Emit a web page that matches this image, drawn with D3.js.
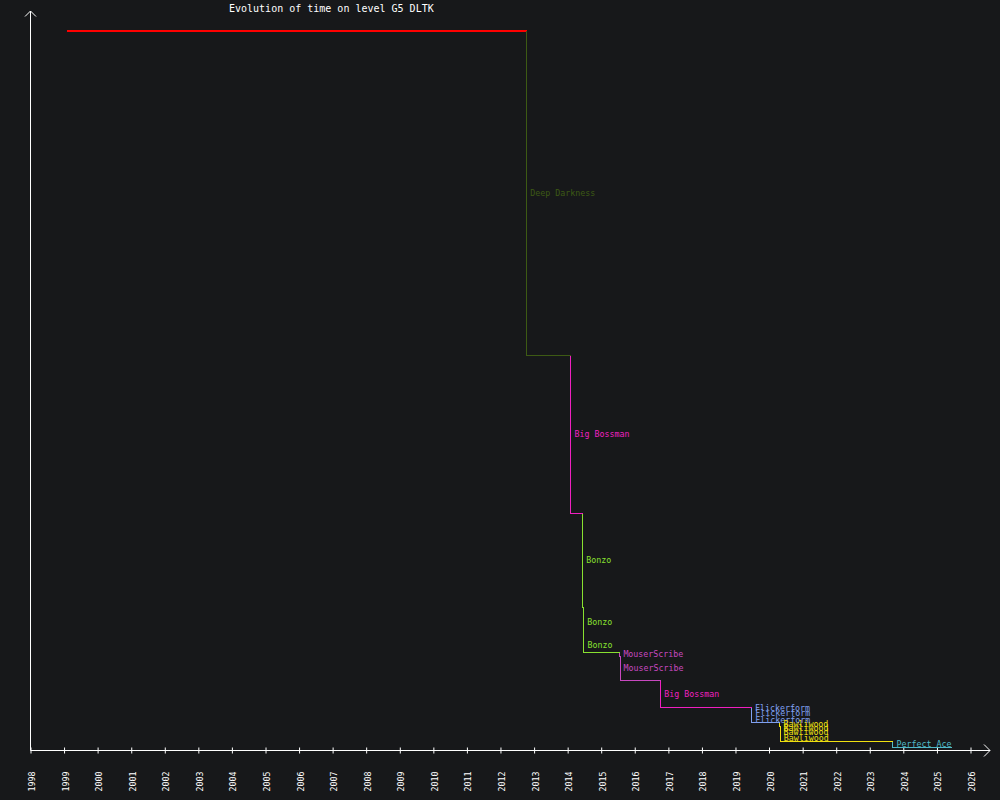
<!DOCTYPE html>
<html>
<head>
<meta charset="utf-8">
<script src="https://cdn.jsdelivr.net/npm/d3@7"></script>
<style>
  html, body { margin: 0; padding: 0; background: #17181a; }
  svg { display: block; }
  text { font-family: "DejaVu Sans Mono", monospace; }
</style>
</head>
<body>
<svg id="chart" width="1000" height="800"></svg>
<script>
// record history of level G5 DLTK (time, arbitrary units)
const recordDates = [
  '1999-01-24', '2012-10-07', '2014-02-01', '2014-06-10', '2014-06-21',
  '2014-06-22', '2015-07-18', '2015-07-20', '2016-10-04', '2019-06-20',
  '2019-06-21', '2019-06-22', '2020-04-23', '2020-04-24', '2020-04-25',
  '2020-04-26', '2023-09-05'
];
const recordTimes = [
  720, 395, 237, 143.3, 112.7,
  97.7, 94.3, 69.7, 43, 41.3,
  32.7, 27.7, 24.3, 19.7, 16.3,
  8.7, 3.3
];
const recordHolders = [
  '', 'Deep Darkness', 'Big Bossman', 'Bonzo', 'Bonzo',
  'Bonzo', 'MouserScribe', 'MouserScribe', 'Big Bossman', 'Flickerform',
  'Flickerform', 'Flickerform', 'Bawliwood', 'Bawliwood', 'Bawliwood',
  'Bawliwood', 'Perfect Ace'
];
const holderNames = ['', 'Deep Darkness', 'Big Bossman', 'Bonzo', 'MouserScribe', 'Flickerform', 'Bawliwood', 'Perfect Ace'];
const holderColors = ['#ff0000', '#3d5a14', '#f020c0', '#88e030', '#c848c0', '#80a0f0', '#f0e010', '#50b8c8'];
const startYear = '1998-01-01';
const endYear = '2026-01-01';
const today = '2025-06-06';
const title = 'Evolution of time on level G5 DLTK';

function drawChart() {
  const svg = d3.select('#chart');
  const parse = d3.timeParse('%Y-%m-%d');

  const x = d3.scaleTime()
    .domain([parse(startYear), parse(endYear)])
    .range([30.5, 970.5]);
  const y = d3.scaleLinear()
    .domain([0, 720])
    .range([750, 30]);
  const color = d3.scaleOrdinal().domain(holderNames).range(holderColors);

  const recs = recordDates.map((d, i) => ({
    date: parse(d),
    time: recordTimes[i],
    holder: recordHolders[i]
  }));
  const now = parse(today);

  // title
  svg.append('text')
    .attr('x', 229)
    .attr('y', 8)
    .attr('dominant-baseline', 'central')
    .attr('fill', '#ffffff')
    .attr('font-size', 10)
    .text(title);

  // x axis with year ticks
  const xAxis = svg.append('g')
    .attr('transform', 'translate(0,750.5)')
    .call(d3.axisBottom(x).ticks(d3.timeYear.every(1)).tickSize(3).tickFormat(d3.timeFormat('%Y')));
  xAxis.select('.domain').remove();
  xAxis.selectAll('.tick line')
    .attr('stroke', '#ffffff')
    .attr('y1', -3)
    .attr('y2', 3);
  xAxis.selectAll('.tick text')
    .attr('fill', '#ffffff')
    .attr('font-size', 8.3)
    .attr('font-family', '"DejaVu Sans Mono", monospace')
    .attr('text-anchor', 'middle')
    .attr('dominant-baseline', 'central')
    .attr('transform', 'translate(1,31) rotate(-90)')
    .attr('x', 0)
    .attr('y', 0)
    .attr('dy', null);

  const axes = svg.append('g')
    .attr('stroke', '#ffffff')
    .attr('fill', 'none')
    .attr('stroke-width', 1);
  axes.append('line').attr('x1', 30.5).attr('y1', 750.5).attr('x2', 990).attr('y2', 750.5);
  axes.append('polyline').attr('points', '984,744.5 990,750.5 984,756.5');
  axes.append('line').attr('x1', 30.5).attr('y1', 750.5).attr('x2', 30.5).attr('y2', 11);
  axes.append('polyline').attr('points', '25,16.5 30.5,11 36,16.5');

  // step lines
  const steps = svg.append('g')
    .attr('fill', 'none')
    .attr('shape-rendering', 'crispEdges');

  recs.forEach(function(r, i) {
    const next = i < recs.length - 1 ? recs[i + 1].date : now;
    const c = color(r.holder);
    const px = Math.round(x(r.date)) + 0.5;
    const py = Math.round(y(r.time)) + 0.5;
    steps.append('line')
      .attr('x1', px)
      .attr('x2', Math.round(x(next)) + 0.5)
      .attr('y1', py)
      .attr('y2', py)
      .attr('stroke', c)
      .attr('stroke-width', i === 0 ? 2 : 1);
    if (i > 0) {
      steps.append('line')
        .attr('x1', px)
        .attr('x2', px)
        .attr('y1', Math.round(y(recs[i - 1].time)) + 0.5)
        .attr('y2', py)
        .attr('stroke', c)
        .attr('stroke-width', 1);
    }
  });

  // holder labels beside each drop
  svg.append('g')
    .selectAll('text')
    .data(recs.slice(1).map((r, i) => ({r: r, prev: recs[i]})))
    .join('text')
    .attr('x', d => x(d.r.date) + 4)
    .attr('y', d => (y(d.prev.time) + y(d.r.time)) / 2)
    .attr('dominant-baseline', 'central')
    .attr('font-size', 8.3)
    .attr('fill', d => color(d.r.holder))
    .text(d => d.r.holder);
}

document.addEventListener('DOMContentLoaded', drawChart);
</script>
</body>
</html>
